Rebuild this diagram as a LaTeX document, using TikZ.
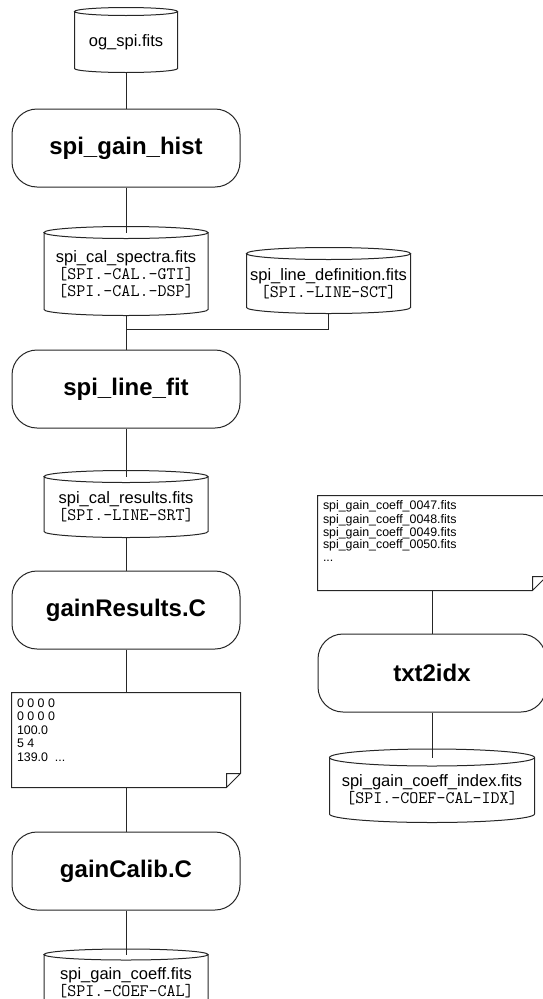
\documentclass[tikz,border=0pt]{standalone}
\usepackage{fontspec}
\setmainfont{Liberation Sans}
\usepackage{tikz}
\usetikzlibrary{positioning,calc}
\tikzstyle{block} = [rectangle, draw, rounded corners=25pt,
minimum width=228pt, minimum height=78pt, font=\fontsize{24}{28}\selectfont\bfseries]
\tikzstyle{datafile} = [rectangle, minimum width=163pt, align=center, inner sep=0pt,
font=\fontsize{16.5}{17}\selectfont]
\tikzstyle{note} = [rectangle, inner sep=5pt, font=\fontsize{12.4}{13.5}\selectfont]
\tikzstyle{line} = [draw]
\newcommand{\dtype}[1]{{\ttfamily\fontsize{17.5}{17}\selectfont #1}}
\newcommand{\notetext}[1]{\parbox[c][84pt][t]{218pt}{\strut#1}}

\begin{document}
\begin{tikzpicture}[x=1pt, y=-1pt, line width=1pt, draw=black!85]
\useasboundingbox (0,0) rectangle (542,999);
    % nodes
\node [datafile, minimum width=102pt, minimum height=60pt] (ogspi) at (126,42) {og\_spi.fits};
\node [block, below=36pt of ogspi] (hist) {spi\_gain\_hist};
\node [datafile, minimum height=82pt, below=45pt of hist] (calspec) {spi\_cal\_spectra.fits\\ \dtype{[SPI.-CAL.-GTI]}\\ \dtype{[SPI.-CAL.-DSP]}};
\node [datafile, minimum height=59pt] (linedef) at (328.5,283.5) {spi\_line\_definition.fits\\ \dtype{[SPI.-LINE-SCT]}};
\coordinate [below=14pt of calspec] (jn);
\node [block, below=34pt of calspec] (linefit) {spi\_line\_fit};
\node [datafile, minimum height=60pt, below=48pt of linefit] (calres) {spi\_cal\_results.fits\\ \dtype{[SPI.-LINE-SRT]}};
\node [block, below=33pt of calres] (gainres) {gainResults.C};
\node [note, below=43pt of gainres] (vals) {\notetext{0 0 0 0\\ 0 0 0 0\\ 100.0\\ 5 4\\ 139.0~ ...}};
\node [block, below=44pt of vals] (gaincalib) {gainCalib.C};
\node [datafile, minimum height=55pt, below=44pt of gaincalib] (coeff) {spi\_gain\_coeff.fits\\ \dtype{[SPI.-COEF-CAL]}};

\node [note, font=\fontsize{12.4}{12.6}\selectfont] (list) at (432,543) {\notetext{spi\_gain\_coeff\_0047.fits\\ spi\_gain\_coeff\_0048.fits\\ spi\_gain\_coeff\_0049.fits\\ spi\_gain\_coeff\_0050.fits\\ ...}};
\node [block, below=43pt of list] (txtidx) {txt2idx};
\node [datafile, minimum width=204pt, minimum height=64pt, below=45pt of txtidx] (idx) {spi\_gain\_coeff\_index.fits\\ \dtype{[SPI.-COEF-CAL-IDX]}};

% outlines
\foreach \nm/\ry in {ogspi/4pt, calspec/6pt, linedef/6pt, calres/6pt, coeff/5.5pt, idx/8.5pt}
  \draw let \p1 = ($(\nm.east)-(\nm.west)$) in
    (\nm.north west) -- ([yshift=\ry]\nm.south west)
    arc[start angle=180, end angle=360, x radius=0.5*\x1, y radius=\ry]
    -- (\nm.north east)
    (\nm.north) ellipse[x radius=0.5*\x1, y radius=\ry];
\foreach \nm in {vals,list}
  \draw (\nm.north west) -- (\nm.north east) -- ([yshift=14pt]\nm.south east)
    -- ([xshift=-14pt]\nm.south east) -- (\nm.south west) -- cycle
    ([xshift=-14pt]\nm.south east) |- ([yshift=14pt]\nm.south east);

%edges
\path [line] (ogspi) -- (hist);
\path [line] (hist) -- (calspec);
\path [line] (calspec) -- (linefit);
\path [line] (linedef) |- (jn);
\path [line] (linefit) -- (calres);
\path [line] (calres) -- (gainres);
\path [line] (gainres) -- (vals);
\path [line] (vals) -- (gaincalib);
\path [line] (gaincalib) -- (coeff);
\path [line] (list) -- (txtidx);
\path [line] (txtidx) -- (idx);
\end{tikzpicture}
\end{document}
